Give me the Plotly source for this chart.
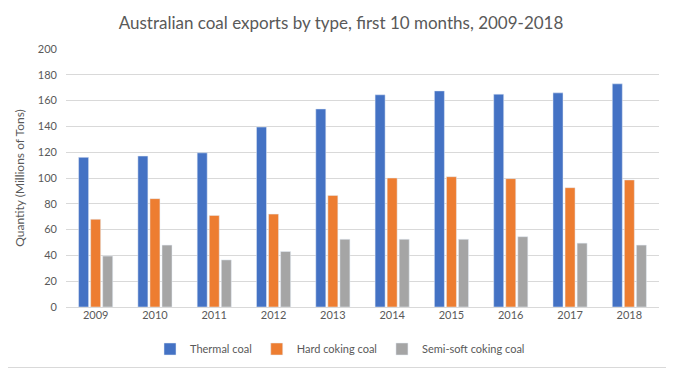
import plotly.graph_objects as go

years = ["2009", "2010", "2011", "2012", "2013", "2014", "2015", "2016", "2017", "2018"]
thermal = [116, 117, 119.5, 139.5, 153.5, 164.5, 167.5, 165, 166, 173]
hard_coking = [68, 84, 71, 72, 86.5, 100, 101, 99.5, 92.5, 98.5]
semi_soft = [39.5, 48, 36.5, 43, 52.5, 52.5, 52.5, 54.5, 49.5, 48]

# page has an 8px body margin; size the figure to fill the rest of the window
O = 8
W, H = 674 - O, 369 - O
L, R, T, B = 66 - O, 15, 49 - O, 62
pw, ph = W - L - R, H - T - B

fig = go.Figure()
fig.add_trace(go.Bar(x=years, y=thermal, name="Thermal coal", marker_color="#4472C4"))
fig.add_trace(go.Bar(x=years, y=hard_coking, name="Hard coking coal", marker_color="#ED7D31"))
fig.add_trace(go.Bar(x=years, y=semi_soft, name="Semi-soft coking coal", marker_color="#A5A5A5"))

fig.update_layout(
    width=W, height=H,
    margin=dict(l=L, r=R, t=T, b=B, autoexpand=False),
    paper_bgcolor="white", plot_bgcolor="white",
    font=dict(family="Lato, Open Sans, sans-serif", color="#595959", size=11),
    title=dict(text="Australian coal exports by type, first 10 months, 2009-2018",
               x=0.5, xanchor="center", y=1 - (23 - O) / H, yanchor="middle",
               font=dict(size=17, color="#595959")),
    barmode="group", bargap=0.39, bargroupgap=0.17,
    legend=dict(orientation="h", x=(340 - O - L) / pw, xanchor="center", y=-(349 - 307) / ph, yanchor="middle",
                font=dict(size=11, color="#595959"), traceorder="normal", itemwidth=30),
    showlegend=True,
    xaxis=dict(showgrid=False, showline=False, ticks="", tickfont=dict(size=11), automargin=False),
    yaxis=dict(range=[0, 200], dtick=20, showgrid=True, gridcolor="#D9D9D9", gridwidth=1,
               zeroline=True, zerolinecolor="#D9D9D9", zerolinewidth=1, showline=False,
               ticks="", tickfont=dict(size=11), automargin=False, ticklabelstandoff=8,
               title=dict(text="Quantity (Millions of Tons)", font=dict(size=12, color="#595959"), standoff=10)),
    shapes=[
        dict(type="line", xref="paper", yref="paper",
             x0=(W - 1.5 - L) / pw, x1=(W - 1.5 - L) / pw, y0=-(B - 1) / ph, y1=1 + T / ph,
             line=dict(color="#D9D9D9", width=1)),
        dict(type="line", xref="paper", yref="paper",
             x0=-L / pw, x1=(W - 1.5 - L) / pw, y0=-(B - 1.5) / ph, y1=-(B - 1.5) / ph,
             line=dict(color="#D9D9D9", width=1)),
    ],
)

fig.write_html("out.html")
